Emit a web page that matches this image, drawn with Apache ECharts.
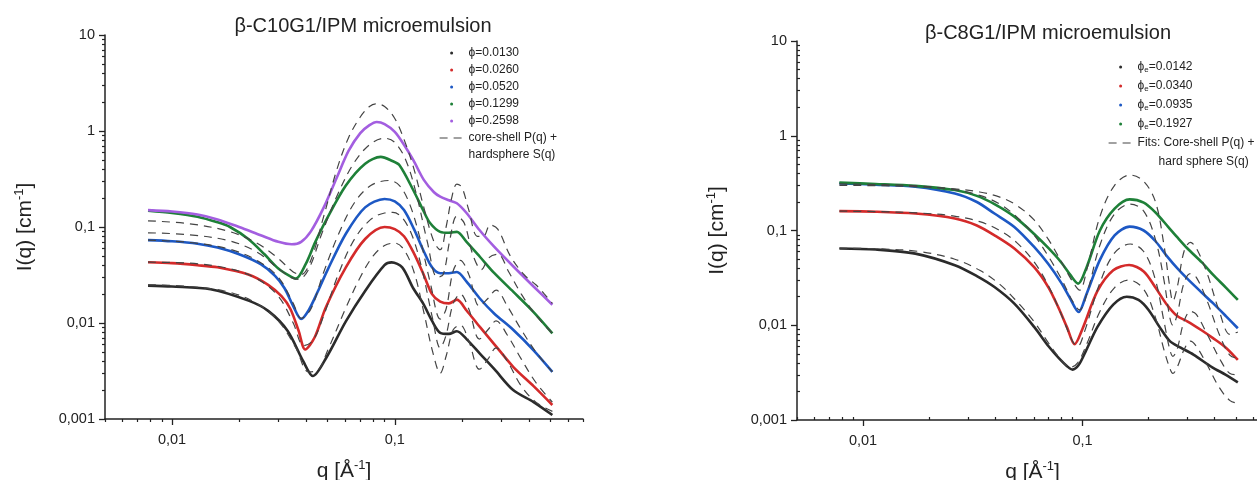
<!DOCTYPE html>
<html><head><meta charset="utf-8">
<script src="https://cdn.jsdelivr.net/npm/echarts@6/dist/echarts.min.js"></script>
<style>html,body{margin:0;padding:0;background:#fff}#c{width:1257px;height:480px}</style>
</head><body><div id="c"></div>
<script>
// ---------- tick values ----------
const xMajorTicks = [0.01, 0.1];
const xMinorTicks = [0.005,0.006,0.007,0.008,0.009,0.02,0.03,0.04,0.05,0.06,0.07,0.08,0.09,0.2,0.3,0.4,0.5,0.6,0.7];
const yMajorTicks = [0.001, 0.01, 0.1, 1, 10];
const yMinorTicks = [0.002,0.003,0.004,0.005,0.006,0.007,0.008,0.009,0.02,0.03,0.04,0.05,0.06,0.07,0.08,0.09,0.2,0.3,0.4,0.5,0.6,0.7,0.8,0.9,2,3,4,5,6,7,8,9];

// ---------- titles / names ----------
const leftTitle = 'β-C10G1/IPM microemulsion';
const rightTitle = 'β-C8G1/IPM microemulsion';
const leftNames = ['ϕ=0.0130','ϕ=0.0260','ϕ=0.0520','ϕ=0.1299','ϕ=0.2598'];
const rightNames = ['ϕe=0.0142','ϕe=0.0340','ϕe=0.0935','ϕe=0.1927'];
const leftFitName = ['core-shell P(q) +', 'hardsphere S(q)'];
const rightFitName = ['Fits: Core-shell P(q) +', 'hard sphere S(q)'];

// ---------- left panel data [q, I] ----------
const L_0130 = [[0.0078,0.0245],[0.010,0.024],[0.0149,0.0225],[0.0222,0.017],[0.0271,0.0133],[0.033,0.0083],[0.0388,0.004],[0.0429,0.0028],[0.0494,0.0044],[0.0603,0.0104],[0.0736,0.0216],[0.0899,0.040],[0.0968,0.0428],[0.108,0.038],[0.121,0.023],[0.134,0.016],[0.147,0.0105],[0.16,0.0079],[0.175,0.0077],[0.19,0.0082],[0.21,0.0068],[0.241,0.0048],[0.28,0.0033],[0.34,0.002],[0.42,0.0015],[0.51,0.0011]];
const L_0260 = [[0.0078,0.043],[0.010,0.042],[0.013,0.040],[0.016,0.038],[0.022,0.032],[0.027,0.025],[0.031,0.019],[0.034,0.014],[0.037,0.0083],[0.0396,0.0053],[0.0437,0.0071],[0.049,0.0145],[0.0603,0.038],[0.0736,0.075],[0.09,0.1],[0.1,0.095],[0.11,0.08],[0.121,0.055],[0.134,0.033],[0.147,0.02],[0.16,0.0167],[0.175,0.016],[0.19,0.0175],[0.21,0.0135],[0.241,0.0091],[0.28,0.006],[0.34,0.0035],[0.42,0.0022],[0.51,0.0014]];
const L_0520 = [[0.0078,0.073],[0.010,0.071],[0.013,0.067],[0.016,0.061],[0.02,0.052],[0.025,0.041],[0.029,0.031],[0.032,0.023],[0.035,0.015],[0.038,0.011],[0.041,0.0135],[0.045,0.021],[0.05,0.036],[0.0603,0.085],[0.0736,0.16],[0.09,0.196],[0.1,0.185],[0.11,0.15],[0.122,0.095],[0.134,0.058],[0.147,0.038],[0.16,0.033],[0.175,0.033],[0.19,0.034],[0.21,0.027],[0.241,0.018],[0.28,0.0125],[0.34,0.0085],[0.42,0.0052],[0.51,0.0031]];
const L_1299 = [[0.0078,0.148],[0.010,0.140],[0.013,0.128],[0.016,0.112],[0.0182,0.100],[0.022,0.075],[0.026,0.052],[0.03,0.037],[0.0345,0.030],[0.036,0.029],[0.0398,0.041],[0.044,0.07],[0.049,0.116],[0.0603,0.27],[0.0736,0.456],[0.0865,0.537],[0.097,0.49],[0.105,0.44],[0.121,0.243],[0.134,0.15],[0.144,0.11],[0.16,0.089],[0.175,0.087],[0.19,0.089],[0.21,0.07],[0.241,0.049],[0.28,0.033],[0.34,0.0212],[0.42,0.013],[0.51,0.0078]];
const L_2598 = [[0.0078,0.150],[0.010,0.145],[0.013,0.135],[0.016,0.120],[0.020,0.100],[0.025,0.082],[0.030,0.070],[0.0345,0.066],[0.038,0.070],[0.042,0.090],[0.048,0.16],[0.055,0.33],[0.062,0.62],[0.07,0.95],[0.077,1.15],[0.083,1.24],[0.09,1.18],[0.1,0.98],[0.11,0.72],[0.121,0.50],[0.135,0.31],[0.15,0.23],[0.16,0.207],[0.175,0.19],[0.19,0.177],[0.21,0.14],[0.24,0.093],[0.28,0.062],[0.34,0.039],[0.42,0.024],[0.51,0.0155]];

const LF_0130 = [[0.0078,0.025],[0.012,0.024],[0.018,0.021],[0.024,0.016],[0.03,0.0105],[0.036,0.0055],[0.041,0.0031],[0.045,0.0032],[0.05,0.0052],[0.06,0.014],[0.07,0.03],[0.08,0.05],[0.09,0.064],[0.1,0.068],[0.11,0.058],[0.122,0.034],[0.135,0.013],[0.148,0.005],[0.16,0.003],[0.17,0.0045],[0.183,0.0085],[0.197,0.0095],[0.215,0.0065],[0.24,0.0033],[0.262,0.0042],[0.285,0.0055],[0.32,0.004],[0.37,0.0022],[0.43,0.0015],[0.51,0.0012]];
const LF_0260 = [[0.0078,0.043],[0.012,0.042],[0.018,0.037],[0.024,0.029],[0.03,0.019],[0.035,0.010],[0.039,0.0058],[0.043,0.0066],[0.048,0.012],[0.056,0.033],[0.066,0.075],[0.078,0.12],[0.09,0.14],[0.098,0.142],[0.108,0.125],[0.12,0.08],[0.133,0.035],[0.148,0.011],[0.16,0.0055],[0.17,0.0075],[0.183,0.016],[0.197,0.02],[0.215,0.014],[0.24,0.0068],[0.262,0.0085],[0.285,0.0105],[0.32,0.0075],[0.37,0.0042],[0.43,0.0024],[0.51,0.0015]];
const LF_0520 = [[0.0078,0.073],[0.012,0.069],[0.018,0.059],[0.024,0.045],[0.03,0.030],[0.035,0.016],[0.038,0.0112],[0.042,0.014],[0.048,0.034],[0.056,0.085],[0.066,0.18],[0.078,0.27],[0.094,0.305],[0.105,0.27],[0.117,0.17],[0.13,0.075],[0.145,0.025],[0.16,0.011],[0.17,0.014],[0.183,0.035],[0.197,0.045],[0.215,0.032],[0.24,0.015],[0.262,0.018],[0.285,0.022],[0.32,0.015],[0.37,0.0085],[0.43,0.005],[0.51,0.0031]];
const LF_1299 = [[0.0078,0.087],[0.012,0.083],[0.018,0.072],[0.024,0.055],[0.03,0.037],[0.034,0.030],[0.037,0.0285],[0.041,0.036],[0.047,0.085],[0.055,0.21],[0.065,0.45],[0.077,0.72],[0.09,0.84],[0.1,0.76],[0.112,0.5],[0.125,0.22],[0.14,0.07],[0.155,0.03],[0.165,0.032],[0.177,0.075],[0.19,0.13],[0.205,0.11],[0.225,0.05],[0.245,0.036],[0.265,0.048],[0.29,0.052],[0.325,0.034],[0.37,0.02],[0.43,0.012],[0.51,0.0078]];
const LF_2598 = [[0.0078,0.116],[0.012,0.108],[0.018,0.090],[0.024,0.068],[0.03,0.047],[0.035,0.034],[0.038,0.032],[0.042,0.045],[0.048,0.13],[0.055,0.40],[0.062,0.85],[0.07,1.4],[0.077,1.8],[0.082,1.92],[0.09,1.8],[0.1,1.35],[0.11,0.82],[0.122,0.40],[0.135,0.16],[0.15,0.07],[0.16,0.058],[0.17,0.1],[0.18,0.2],[0.19,0.28],[0.2,0.26],[0.215,0.15],[0.235,0.08],[0.25,0.08],[0.268,0.105],[0.29,0.095],[0.33,0.05],[0.38,0.032],[0.43,0.025],[0.47,0.02],[0.51,0.016]];

// ---------- right panel data [q, I] ----------
const R_0142 = [[0.0078,0.0645],[0.0114,0.063],[0.0173,0.057],[0.0262,0.043],[0.033,0.033],[0.0397,0.0253],[0.0489,0.0169],[0.0602,0.0096],[0.07,0.006],[0.078,0.0045],[0.085,0.0037],[0.09,0.0034],[0.096,0.0038],[0.103,0.0052],[0.117,0.0096],[0.138,0.0165],[0.159,0.020],[0.18,0.0185],[0.2,0.0145],[0.225,0.0095],[0.25,0.0068],[0.28,0.0058],[0.32,0.0049],[0.39,0.0036],[0.45,0.003],[0.51,0.0025]];
const R_0340 = [[0.0078,0.160],[0.0114,0.158],[0.0173,0.151],[0.0262,0.134],[0.033,0.113],[0.0397,0.089],[0.0489,0.0646],[0.0602,0.041],[0.07,0.025],[0.078,0.015],[0.085,0.0095],[0.092,0.0063],[0.1,0.0092],[0.117,0.023],[0.138,0.038],[0.163,0.0433],[0.19,0.037],[0.215,0.025],[0.24,0.017],[0.27,0.0125],[0.3,0.011],[0.35,0.0088],[0.39,0.0074],[0.45,0.0058],[0.51,0.0043]];
const R_0935 = [[0.0078,0.314],[0.0114,0.305],[0.0173,0.29],[0.0262,0.246],[0.033,0.2],[0.0397,0.151],[0.0489,0.109],[0.0602,0.067],[0.07,0.044],[0.08,0.028],[0.088,0.019],[0.096,0.0138],[0.104,0.021],[0.12,0.049],[0.14,0.089],[0.164,0.11],[0.19,0.1],[0.215,0.077],[0.245,0.052],[0.27,0.04],[0.3,0.031],[0.35,0.022],[0.394,0.017],[0.45,0.0125],[0.51,0.0093]];
const R_1927 = [[0.0078,0.32],[0.0114,0.31],[0.0173,0.296],[0.0262,0.267],[0.033,0.232],[0.0397,0.19],[0.0489,0.14],[0.0602,0.092],[0.07,0.065],[0.08,0.046],[0.088,0.034],[0.0955,0.0275],[0.104,0.04],[0.12,0.10],[0.14,0.17],[0.164,0.213],[0.19,0.197],[0.215,0.155],[0.245,0.11],[0.27,0.085],[0.3,0.065],[0.35,0.046],[0.394,0.034],[0.45,0.025],[0.51,0.0185]];

const RF_0142 = [[0.0078,0.065],[0.012,0.064],[0.018,0.06],[0.026,0.05],[0.034,0.038],[0.042,0.027],[0.05,0.018],[0.06,0.011],[0.07,0.0065],[0.08,0.0043],[0.088,0.0036],[0.095,0.004],[0.105,0.0065],[0.12,0.014],[0.14,0.025],[0.162,0.03],[0.19,0.024],[0.215,0.012],[0.235,0.0055],[0.25,0.0035],[0.258,0.0031],[0.27,0.0036],[0.29,0.0055],[0.31,0.0068],[0.33,0.006],[0.37,0.0038],[0.42,0.0022],[0.47,0.0016],[0.51,0.0015]];
const RF_0340 = [[0.0078,0.16],[0.012,0.158],[0.018,0.153],[0.026,0.142],[0.034,0.124],[0.042,0.1],[0.05,0.075],[0.06,0.047],[0.07,0.026],[0.08,0.013],[0.09,0.0068],[0.095,0.006],[0.102,0.0085],[0.12,0.028],[0.14,0.058],[0.165,0.072],[0.19,0.06],[0.215,0.03],[0.235,0.011],[0.25,0.0055],[0.258,0.0047],[0.27,0.0056],[0.29,0.011],[0.31,0.014],[0.33,0.013],[0.37,0.008],[0.42,0.0045],[0.47,0.0031],[0.51,0.003]];
const RF_0935 = [[0.0078,0.31],[0.012,0.305],[0.018,0.295],[0.026,0.27],[0.034,0.235],[0.042,0.19],[0.05,0.14],[0.06,0.09],[0.07,0.053],[0.08,0.031],[0.09,0.018],[0.097,0.0145],[0.105,0.022],[0.12,0.07],[0.14,0.15],[0.165,0.19],[0.19,0.16],[0.215,0.08],[0.235,0.03],[0.25,0.012],[0.258,0.01],[0.27,0.013],[0.29,0.028],[0.31,0.035],[0.33,0.032],[0.37,0.018],[0.42,0.008],[0.47,0.0048],[0.51,0.0045]];
const RF_1927 = [[0.0078,0.30],[0.012,0.297],[0.018,0.29],[0.026,0.275],[0.034,0.255],[0.042,0.225],[0.05,0.185],[0.06,0.13],[0.07,0.08],[0.08,0.047],[0.09,0.029],[0.097,0.0235],[0.105,0.04],[0.12,0.14],[0.14,0.3],[0.165,0.385],[0.19,0.33],[0.215,0.2],[0.235,0.07],[0.25,0.025],[0.258,0.018],[0.27,0.025],[0.29,0.06],[0.31,0.075],[0.33,0.065],[0.37,0.035],[0.42,0.014],[0.47,0.008],[0.51,0.0085]];

// ---------- styling ----------
const FONT = '"Liberation Sans", Arial, "DejaVu Sans", sans-serif';
const INK = '#222';
const colorsL = ['#2b2b2b', '#d42a2a', '#1d58c4', '#1e8038', '#a35ee0'];
const colorsR = ['#2b2b2b', '#d42a2a', '#1d58c4', '#1e8038'];
const FIT_COLOR = '#444';
const CLEAR = 'rgba(0,0,0,0)';

const fmt = v => String(+(+v).toPrecision(3)).replace('.', ',');

function axisName(base) {
  return '{n|' + base + '}{s|-1}{n|]}';
}
const nameRich = {
  n: { fontSize: 21, fontFamily: FONT, color: INK, lineHeight: 24 },
  s: { fontSize: 13, fontFamily: FONT, color: INK, verticalAlign: 'top', lineHeight: 15 }
};

function xAxes(gi, minorInside) {
  return [{
    type: 'log', gridIndex: gi, min: 0.005, max: 0.7, position: 'bottom',
    axisLine: { show: true, lineStyle: { color: INK, width: 1.5 } },
    axisTick: { show: true, customValues: xMajorTicks, length: 6, lineStyle: { color: INK, width: 1.3 } },
    axisLabel: { customValues: xMajorTicks, formatter: fmt, margin: 13, fontSize: 14.5, color: INK, fontFamily: FONT },
    splitLine: { show: false }, minorTick: { show: false },
    name: axisName('q [Å'), nameLocation: 'middle', nameGap: 40,
    nameTextStyle: { rich: nameRich }
  }, {
    type: 'log', gridIndex: gi, min: 0.005, max: 0.7, position: 'bottom',
    axisLine: { show: false },
    axisTick: { show: true, inside: minorInside, customValues: xMinorTicks, length: 3, lineStyle: { color: INK, width: 1.2 } },
    axisLabel: { show: false }, splitLine: { show: false }
  }];
}
function yAxes(gi, gap, minorInside) {
  return [{
    type: 'log', gridIndex: gi, min: 0.001, max: 10, position: 'left',
    axisLine: { show: true, lineStyle: { color: INK, width: 1.5 } },
    axisTick: { show: true, customValues: yMajorTicks, length: 6, lineStyle: { color: INK, width: 1.3 } },
    axisLabel: { customValues: yMajorTicks, formatter: fmt, margin: 10, fontSize: 14.5, color: INK, fontFamily: FONT },
    splitLine: { show: false },
    name: axisName('I(q) [cm'), nameLocation: 'middle', nameGap: gap, nameRotate: 90,
    nameTextStyle: { rich: nameRich }
  }, {
    type: 'log', gridIndex: gi, min: 0.001, max: 10, position: 'left',
    axisLine: { show: false },
    axisTick: { show: true, inside: minorInside, customValues: yMinorTicks, length: 3, lineStyle: { color: INK, width: 1.2 } },
    axisLabel: { show: false }, splitLine: { show: false }
  }];
}

function dataSeries(name, data, color, xi, yi) {
  return { type: 'line', name, data, xAxisIndex: xi, yAxisIndex: yi, smooth: 0.3,
    symbol: 'none', lineStyle: { width: 2.6, color }, itemStyle: { color }, z: 3, silent: true };
}
function fitSeries(name, data, xi, yi) {
  return { type: 'line', name, data, xAxisIndex: xi, yAxisIndex: yi, smooth: 0.35,
    symbol: 'none', lineStyle: { width: 1.2, color: FIT_COLOR, type: [8, 6] },
    itemStyle: { color: CLEAR }, z: 4, silent: true };
}
function blankSeries(name, xi, yi) {
  return { type: 'line', name, data: [], xAxisIndex: xi, yAxisIndex: yi, symbol: 'none',
    lineStyle: { color: CLEAR, width: 0 }, itemStyle: { color: CLEAR } };
}

const leftData = [L_0130, L_0260, L_0520, L_1299, L_2598];
const leftFits = [LF_0130, LF_0260, LF_0520, LF_1299, LF_2598];
const rightData = [R_0142, R_0340, R_0935, R_1927];
const rightFits = [RF_0142, RF_0340, RF_0935, RF_1927];

const series = [];
leftData.forEach((d, i) => series.push(dataSeries(leftNames[i], d, colorsL[i], 0, 0)));
leftFits.forEach(d => series.push(fitSeries(leftFitName[0], d, 0, 0)));
series.push(blankSeries(leftFitName[1], 0, 0));
rightData.forEach((d, i) => series.push(dataSeries(rightNames[i], d, colorsR[i], 2, 2)));
rightFits.forEach(d => series.push(fitSeries(rightFitName[0], d, 2, 2)));
series.push(blankSeries(rightFitName[1], 2, 2));

const legendText = { fontSize: 12, lineHeight: 14, color: INK, fontFamily: FONT,
  rich: { p: { fontSize: 12, fontFamily: FONT, color: INK, lineHeight: 14 },
          e: { fontSize: 8, fontFamily: FONT, color: INK, verticalAlign: 'bottom', lineHeight: 10 } } };
const legendFmt = n => n.indexOf('ϕe') === 0 ? '{p|ϕ}{e|e}{p|' + n.slice(2) + '}' : n;
const hiddenDot = { opacity: 0 };

const option = {
  animation: false,
  backgroundColor: '#fff',
  textStyle: { fontFamily: FONT },
  title: [
    { text: leftTitle, left: 363, top: 16, textAlign: 'center', padding: 0,
      textStyle: { fontSize: 20, fontWeight: 'normal', color: INK, fontFamily: FONT } },
    { text: rightTitle, left: 1048, top: 23, textAlign: 'center', padding: 0,
      textStyle: { fontSize: 20, fontWeight: 'normal', color: INK, fontFamily: FONT } }
  ],
  legend: [
    { orient: 'vertical', left: 439, top: 46, padding: 0, itemGap: 3, itemWidth: 24, itemHeight: 3,
      selectedMode: false, textStyle: legendText, formatter: legendFmt, lineStyle: { width: 1.2 },
      data: leftNames.map(n => ({ name: n, icon: 'circle' })).concat([
        { name: leftFitName[0], itemStyle: hiddenDot },
        { name: leftFitName[1], itemStyle: hiddenDot }]) },
    { orient: 'vertical', left: 1108, top: 60, padding: 0, itemGap: 5, itemWidth: 24, itemHeight: 3,
      selectedMode: false, textStyle: legendText, formatter: legendFmt, lineStyle: { width: 1.2 },
      data: rightNames.map(n => ({ name: n, icon: 'circle' })).concat([
        { name: rightFitName[0], itemStyle: hiddenDot },
        { name: rightFitName[1], itemStyle: hiddenDot, textStyle: { padding: [0, 0, 0, 21] } }]) }
  ],
  grid: [
    { left: 105, top: 35, width: 478, height: 384, containLabel: false, outerBoundsMode: 'none' },
    { left: 797, top: 41, width: 471, height: 379, containLabel: false, outerBoundsMode: 'none' }
  ],
  xAxis: [...xAxes(0, false), ...xAxes(1, true)],
  yAxis: [...yAxes(0, 68, false), ...yAxes(1, 68, true)],
  series
};
const chart = echarts.init(document.getElementById('c'), null, { renderer: 'canvas' });
chart.setOption(option);
</script>
</body></html>
